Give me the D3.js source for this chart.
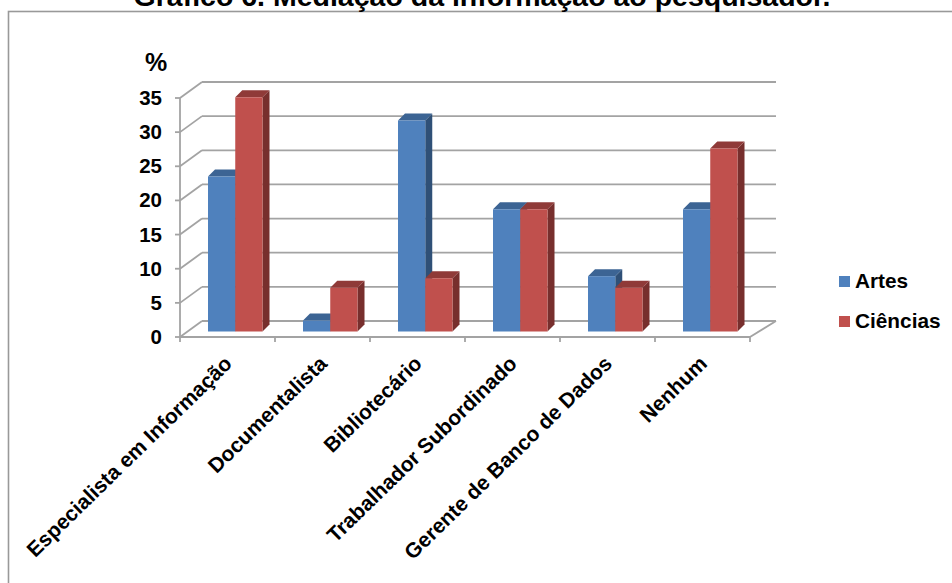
<!DOCTYPE html>
<html lang="pt">
<head>
<meta charset="UTF-8">
<title>Gráfico 6</title>
<script src="https://d3js.org/d3.v7.min.js"></script>
<style>
  html, body { margin: 0; padding: 0; background: #fff; overflow: hidden; }
  text { font-family: "Liberation Sans", Arial, sans-serif; font-weight: bold; fill: #000; }
</style>
</head>
<body>
<script>
const categories = ["Especialista em Informação", "Documentalista", "Bibliotecário", "Trabalhador Subordinado", "Gerente de Banco de Dados", "Nenhum"];
const seriesNames = ["Artes", "Ciências"];
const artes = [22.7, 1.6, 30.9, 17.9, 8.1, 17.9];
const ciencias = [34.3, 6.4, 7.8, 17.9, 6.4, 26.8];
const yTicks = [0, 5, 10, 15, 20, 25, 30, 35];

const width = 952, height = 583;
const front = { color: ["#4f81bd", "#c0504d"], top: ["#3c6494", "#8f3a38"], side: ["#2f5077", "#772f2d"] };

// parede do fundo deslocada em relacao ao plano da frente
const wallDx = 22, wallDy = -16;
const depthDx = 7, depthDy = -7;
const barBase = 331.5;

const svg = d3.select("body").append("svg").attr("width", width).attr("height", height);

// moldura (a direita e embaixo ficam fora da imagem)
svg.append("rect").attr("x", 8.5).attr("y", 11.5).attr("width", 1000).attr("height", 640)
  .attr("fill", "#fff").attr("stroke", "#999").attr("stroke-width", 1.6);

svg.append("text").attr("x", 482).attr("y", 5.5).attr("text-anchor", "middle")
  .style("font-size", "28.5px").text("Gráfico 6. Mediação da informação ao pesquisador.");

const x = d3.scaleBand().domain(categories).range([180, 750]);
const y = d3.scaleLinear().domain([0, 35]).range([337, 98]);
const barH = d3.scaleLinear().domain([0, 35]).range([0, 239]);
const inner = d3.scaleBand().domain(seriesNames).range([0, 54.5]);

// grade 3D
const gridColor = "#a3a3a3";
const grid = svg.append("g").attr("fill", "none").attr("stroke", gridColor).attr("stroke-width", 1.8);
yTicks.forEach(t => {
  grid.append("line").attr("x1", 180).attr("y1", y(t)).attr("x2", 180 + wallDx).attr("y2", y(t) + wallDy);
  grid.append("line").attr("x1", 180 + wallDx).attr("y1", y(t) + wallDy).attr("x2", 750 + wallDx + 4).attr("y2", y(t) + wallDy);
  grid.append("line").attr("x1", 175).attr("y1", y(t)).attr("x2", 180).attr("y2", y(t));
});
grid.append("line").attr("x1", 180).attr("y1", y(35)).attr("x2", 180).attr("y2", y(0) + 5);
grid.append("line").attr("x1", 180).attr("y1", y(0)).attr("x2", 750).attr("y2", y(0));
grid.append("line").attr("x1", 750).attr("y1", y(0)).attr("x2", 750 + wallDx + 4).attr("y2", y(0) + wallDy);
categories.forEach(c => {
  grid.append("line").attr("x1", x(c) + x.bandwidth()).attr("y1", y(0))
    .attr("x2", x(c) + x.bandwidth()).attr("y2", y(0) + 5);
});

// barras
[artes, ciencias].forEach((values, s) => {
  const g = svg.append("g");
  values.forEach((v, i) => {
    const x0 = x(categories[i]) + 28 + inner(seriesNames[s]);
    const w = inner.bandwidth();
    const top = barBase - barH(v);
    g.append("path").attr("fill", front.side[s])
      .attr("d", `M${x0 + w},${barBase}L${x0 + w + depthDx},${barBase + depthDy}L${x0 + w + depthDx},${top + depthDy}L${x0 + w},${top}Z`);
    g.append("path").attr("fill", front.top[s])
      .attr("d", `M${x0},${top}L${x0 + depthDx},${top + depthDy}L${x0 + w + depthDx},${top + depthDy}L${x0 + w},${top}Z`);
    g.append("rect").attr("x", x0).attr("y", top).attr("width", w).attr("height", barH(v)).attr("fill", front.color[s]);
  });
});

// eixo y
yTicks.forEach(t => {
  svg.append("text").attr("x", 162).attr("y", y(t) + 7).attr("text-anchor", "end")
    .style("font-size", "20.5px").text(t);
});
svg.append("text").attr("x", 156).attr("y", 71).attr("text-anchor", "middle").style("font-size", "25px").text("%");

// rotulos das categorias
categories.forEach(c => {
  const cx = x(c) + x.bandwidth() / 2 - 3;
  svg.append("text").attr("text-anchor", "end").style("font-size", "21px")
    .attr("transform", `translate(${cx},${356}) rotate(-44.3)`)
    .attr("dy", "0.6em").text(c);
});

// legenda
seriesNames.forEach((n, i) => {
  const ly = 281.5 + i * 40;
  svg.append("rect").attr("x", 839).attr("y", ly - 5.5).attr("width", 11).attr("height", 11).attr("fill", front.color[i]);
  svg.append("text").attr("x", 855).attr("y", ly + 6).style("font-size", "20.8px").text(n);
});
</script>
</body>
</html>
